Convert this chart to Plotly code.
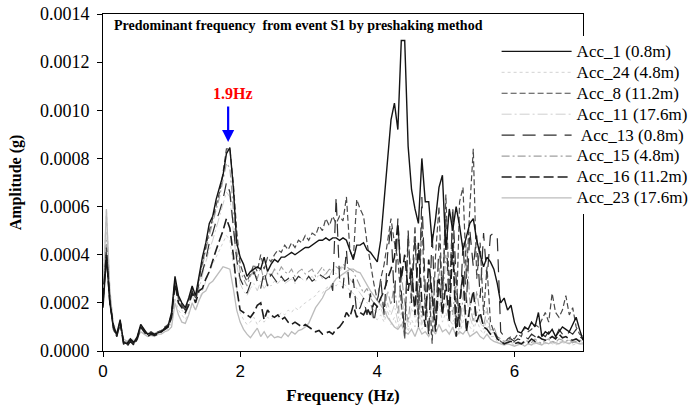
import plotly.graph_objects as go

# Frequency grid (Hz), 0.05 Hz spacing from 0 to 7 Hz
FREQ = [round(i * 0.05, 2) for i in range(141)]
SCALE = 1e-4  # values below are in units of 1e-4 g

ACC_1 = [
    1.8, 3.9, 2.0, 1.0, 0.7, 1.3, 0.35, 0.3, 0.5, 0.35, 0.6, 1.1, 0.9, 0.7, 0.75, 0.7, 0.75, 0.8, 0.95, 1.05,
    1.6, 3.1, 2.3, 2.0, 1.8, 2.2, 2.7, 2.3, 3.1, 3.9, 4.5, 5.3, 5.6, 6.3, 6.8, 7.3, 8.2, 8.45, 6.8, 4.5,
    3.9, 3.6, 3.1, 3.3, 3.4, 3.5, 3.4, 3.9, 3.3, 3.6, 3.8, 3.7, 3.9, 3.9, 4.0, 4.1, 4.0, 4.1, 4.2, 4.3,
    4.3, 4.4, 4.5, 4.6, 4.6, 4.7, 4.6, 4.7, 4.7, 4.6, 4.7, 4.6, 4.2, 3.8, 4.4, 4.4, 4.5, 4.2, 4.1, 3.9,
    3.7, 4.6, 6.2, 8.0, 9.6, 10.3, 9.2, 12.9, 12.9, 8.5, 6.7, 5.9, 5.3, 8.0, 6.2, 6.2, 4.5, 5.5, 6.8, 7.3,
    4.2, 5.9, 5.0, 6.0, 5.2, 4.2, 4.8, 5.3, 5.5, 4.6, 4.0, 3.5, 3.9, 3.7, 3.4, 2.8, 2.0, 2.2, 1.7, 1.9,
    1.2, 0.8, 0.75, 1.0, 0.9, 1.2, 1.0, 1.6, 0.6, 0.8, 0.7, 0.9, 0.6, 0.8, 1.0, 0.9, 0.8, 1.1, 1.4, 0.9,
    0.45,
]
ACC_24 = [
    2.5, 5.9, 2.6, 1.2, 0.8, 1.1, 0.5, 0.4, 0.55, 0.45, 0.6, 0.9, 0.8, 0.7, 0.75, 0.7, 0.75, 0.8, 0.85, 0.9,
    1.2, 2.2, 1.7, 1.5, 1.3, 1.6, 1.9, 1.7, 2.1, 2.5, 2.9, 3.3, 3.6, 3.9, 4.2, 4.5, 4.8, 4.6, 3.6, 2.4,
    1.6, 1.3, 1.1, 1.2, 1.4, 1.1, 1.3, 1.2, 1.4, 1.3, 1.5, 1.4, 1.6, 1.5, 1.7, 1.6, 1.8, 1.7, 1.9, 2.0,
    2.1, 2.2, 2.3, 2.5, 2.4, 2.6, 2.7, 2.8, 2.7, 2.9, 2.8, 2.7, 2.5, 2.4, 2.2, 2.0, 1.9, 1.7, 1.5, 1.4,
    1.3, 1.5, 1.2, 1.7, 1.1, 1.4, 0.9, 1.6, 1.2, 0.8, 1.3, 1.0, 1.8, 0.9, 1.2, 0.7, 1.5, 1.0, 2.0, 1.2,
    1.6, 1.0, 0.9, 1.4, 0.7, 1.2, 1.7, 1.0, 0.8, 1.3, 0.9, 0.7, 1.0, 0.6, 0.6, 0.4, 0.35, 0.3, 0.35, 0.3,
    0.25, 0.3, 0.25, 0.35, 0.3, 0.25, 0.3, 0.35, 0.25, 0.3, 0.35, 0.3, 0.25, 0.3, 0.35, 0.3, 0.35, 0.25, 0.3, 0.3,
    0.3,
]
ACC_8 = [
    2.0, 4.3, 2.2, 0.9, 0.6, 1.2, 0.4, 0.3, 0.45, 0.3, 0.55, 1.0, 0.85, 0.7, 0.8, 0.7, 0.8, 0.85, 1.0, 1.1,
    1.5, 2.9, 2.2, 1.9, 1.7, 2.1, 2.6, 2.2, 3.0, 3.7, 4.3, 5.0, 5.5, 6.1, 6.6, 7.4, 8.4, 8.4, 7.0, 5.0,
    3.6, 3.2, 2.9, 3.2, 3.6, 3.3, 4.0, 3.4, 3.9, 3.7, 4.0, 4.2, 4.1, 4.4, 4.2, 4.5, 4.3, 4.6, 4.5, 4.8,
    4.6, 4.9, 4.8, 5.2, 5.0, 5.5, 5.2, 5.6, 5.3, 5.6, 5.4, 6.4, 4.2, 3.8, 6.3, 5.9, 5.6, 4.5, 3.6, 2.8,
    2.1, 3.0, 3.6, 4.6, 5.5, 4.5, 3.8, 2.0, 0.5, 4.8, 2.5, 5.2, 1.0, 5.6, 1.5, 3.0, 0.3, 4.0, 6.0, 2.0,
    6.5, 2.5, 5.5, 1.0, 6.2, 6.8, 3.0, 6.0, 8.4, 3.0, 4.5, 1.5, 3.5, 1.2, 0.8, 0.6, 0.4, 0.3, 0.5, 0.6,
    0.5, 0.7, 0.6, 1.0, 0.8, 0.9, 1.1, 1.0, 1.3, 1.6, 1.2, 2.4, 1.6, 1.4, 1.7, 2.3, 1.5, 1.8, 1.0, 0.7,
    0.6,
]
ACC_11 = [
    2.3, 5.0, 2.4, 1.0, 0.7, 1.1, 0.45, 0.35, 0.5, 0.4, 0.6, 1.0, 0.85, 0.75, 0.8, 0.75, 0.8, 0.85, 0.9, 1.0,
    1.3, 2.6, 2.0, 1.7, 1.5, 1.9, 2.3, 2.0, 2.6, 3.1, 3.7, 4.2, 4.6, 5.1, 5.6, 6.1, 6.6, 6.4, 5.0, 3.6,
    2.8, 2.5, 2.3, 2.6, 2.8, 2.5, 2.9, 2.6, 2.8, 2.7, 2.9, 2.8, 3.0, 2.8, 2.9, 3.0, 2.8, 3.1, 3.0, 2.9,
    3.0, 3.1, 2.9, 3.2, 3.0, 3.3, 3.1, 3.4, 3.2, 3.3, 3.5, 3.2, 3.0, 2.8, 2.6, 2.4, 2.2, 2.0, 1.9, 1.7,
    1.6, 1.8, 1.4, 2.0, 1.5, 1.9, 1.2, 2.2, 1.6, 1.0, 1.8, 1.4, 2.4, 1.1, 1.6, 0.9, 2.0, 1.3, 2.6, 1.5,
    2.0, 1.3, 1.1, 1.9, 0.9, 1.6, 2.3, 1.4, 1.0, 1.7, 1.2, 0.9, 1.3, 0.7, 0.8, 0.5, 0.4, 0.35, 0.4, 0.35,
    0.3, 0.35, 0.3, 0.4, 0.35, 0.3, 0.4, 0.35, 0.3, 0.4, 0.45, 0.35, 0.3, 0.4, 0.35, 0.4, 0.45, 0.3, 0.35, 0.4,
    0.35,
]
ACC_13 = [
    1.9, 4.1, 2.1, 1.0, 0.65, 1.25, 0.35, 0.3, 0.45, 0.3, 0.55, 1.05, 0.85, 0.7, 0.75, 0.7, 0.75, 0.8, 0.9, 1.0,
    1.5, 3.0, 2.2, 1.9, 1.7, 2.0, 2.5, 2.1, 2.8, 3.3, 3.8, 4.5, 4.9, 5.4, 5.8, 6.3, 7.0, 6.6, 5.2, 3.8,
    3.0, 2.7, 2.4, 2.8, 3.3, 2.9, 2.6, 3.3, 2.7, 3.2, 3.0, 2.8, 3.1, 2.9, 3.0, 3.2, 2.9, 3.1, 3.0, 2.9,
    3.1, 2.9, 3.0, 3.2, 3.1, 3.0, 3.1, 2.5, 6.4, 3.0, 2.6, 4.2, 2.2, 3.0, 1.6, 1.8, 2.2, 1.5, 2.4, 1.2,
    2.0, 3.0, 1.5, 4.0, 5.2, 2.0, 5.5, 2.5, 0.7, 5.0, 2.0, 4.8, 1.5, 6.4, 2.5, 0.6, 5.0, 1.0, 4.5, 2.5,
    5.5, 1.5, 6.0, 3.0, 1.0, 4.5, 2.0, 5.0, 3.5, 4.8, 2.2, 4.9, 3.0, 4.8, 4.9, 4.7, 0.8, 0.6, 0.5, 0.5,
    0.4, 0.5, 0.45, 0.6, 0.5, 0.7, 0.6, 0.5, 0.7, 0.6, 0.8, 0.7, 0.6, 0.9, 0.7, 0.6, 0.8, 0.7, 0.9, 0.6,
    0.5,
]
ACC_15 = [
    2.1, 4.6, 2.2, 0.95, 0.6, 1.2, 0.4, 0.35, 0.5, 0.35, 0.6, 1.1, 0.9, 0.7, 0.8, 0.7, 0.8, 0.85, 0.95, 1.05,
    1.4, 2.9, 2.2, 1.9, 1.7, 2.1, 2.5, 2.2, 2.9, 3.5, 4.2, 4.8, 5.3, 5.9, 6.4, 7.1, 7.8, 7.6, 6.0, 4.2,
    3.3, 3.0, 2.7, 3.1, 3.4, 3.0, 3.5, 2.9, 3.3, 3.1, 3.4, 3.2, 3.5, 3.3, 3.2, 3.4, 3.1, 3.3, 3.4, 3.2,
    3.3, 3.4, 3.1, 3.3, 3.5, 3.2, 3.4, 3.3, 3.5, 3.4, 3.6, 3.5, 3.4, 3.3, 3.0, 2.7, 2.4, 2.6, 2.2, 2.0,
    1.8, 2.2, 1.6, 2.5, 1.9, 2.8, 1.5, 3.2, 2.0, 1.2, 2.6, 1.8, 3.0, 1.4, 2.2, 1.0, 2.5, 1.5, 3.5, 2.0,
    4.0, 2.5, 1.5, 3.0, 1.0, 2.2, 4.5, 2.0, 1.2, 2.5, 1.5, 1.0, 1.8, 0.8, 1.0, 0.6, 0.5, 0.4, 0.45, 0.4,
    0.35, 0.4, 0.3, 0.45, 0.4, 0.35, 0.5, 0.4, 0.3, 0.45, 0.5, 0.4, 0.35, 0.5, 0.45, 0.4, 0.5, 0.35, 0.4, 0.45,
    0.4,
]
ACC_16 = [
    2.2, 4.0, 2.0, 1.1, 0.6, 1.2, 0.3, 0.2, 0.4, 0.25, 0.5, 1.0, 0.8, 0.6, 0.7, 0.65, 0.7, 0.8, 0.9, 1.0,
    1.4, 2.8, 2.0, 1.8, 1.6, 1.9, 2.4, 2.0, 2.5, 2.6, 3.0, 3.3, 3.8, 4.2, 4.6, 5.0, 5.5, 5.1, 4.0, 2.6,
    1.7, 1.6, 1.5, 1.4, 1.6, 1.9, 2.0, 1.3, 1.7, 1.5, 1.4, 1.5, 1.3, 1.4, 1.2, 1.1, 1.2, 1.1, 1.0, 1.1,
    1.0, 0.9, 0.8, 0.85, 0.7, 0.75, 0.8, 0.7, 0.9, 1.0, 1.2, 1.6, 1.4, 1.9, 1.4, 1.6, 1.5, 1.8, 1.5, 2.0,
    1.85, 2.2, 2.5, 3.0, 3.4, 3.9, 5.3, 3.0, 4.0, 2.5, 3.5, 1.5, 4.5, 2.0, 1.0, 3.8, 2.2, 0.8, 3.0, 1.5,
    2.8, 1.2, 4.5, 0.6, 2.0, 3.2, 0.8, 1.8, 2.5, 1.2, 1.6, 1.0, 0.9, 0.7, 0.8, 0.5, 0.4, 0.3, 0.35, 0.4,
    0.3, 0.35, 0.3, 0.4, 0.35, 0.5, 0.4, 0.6, 0.5, 0.45, 0.5, 0.6, 0.5, 0.7, 0.55, 0.6, 0.5, 0.45, 0.5, 0.4,
    0.4,
]
ACC_23 = [
    2.4, 5.9, 2.5, 1.1, 0.7, 1.0, 0.5, 0.4, 0.5, 0.4, 0.55, 0.8, 0.7, 0.6, 0.65, 0.6, 0.7, 0.7, 0.8, 0.85,
    1.0, 2.0, 1.5, 1.2, 1.15, 1.5, 2.0, 1.7, 2.1, 2.4, 2.5, 2.8, 2.9, 3.1, 3.3, 3.5, 3.45, 3.4, 2.6, 1.7,
    1.2, 0.9, 0.7, 0.55, 0.75, 0.95, 0.6, 0.8, 0.55, 0.7, 0.55, 0.6, 0.55, 0.75, 0.6, 0.8, 0.7, 0.85, 0.9, 1.0,
    1.15, 1.5, 1.8, 2.0, 2.2, 2.5, 2.6, 2.8, 3.0, 3.1, 3.2, 3.3, 3.4, 3.4, 3.3, 3.25, 3.0, 2.7, 2.5, 2.3,
    2.1, 1.9, 1.7, 1.4, 1.2, 1.0, 0.9, 1.1, 0.8, 0.7, 0.9, 0.6, 1.0, 0.7, 0.8, 0.6, 0.9, 0.7, 1.1, 0.8,
    0.9, 0.7, 1.0, 0.6, 0.8, 0.7, 0.9, 0.6, 0.7, 0.8, 0.6, 0.5, 0.7, 0.5, 0.4, 0.35, 0.3, 0.25, 0.3, 0.25,
    0.2, 0.25, 0.3, 0.2, 0.3, 0.25, 0.35, 0.3, 0.25, 0.35, 0.3, 0.4, 0.35, 0.3, 0.4, 0.35, 0.3, 0.4, 0.35, 0.3,
    0.3,
]

SERIES_NAMES = ["Acc_1 (0.8m)", "Acc_24 (4.8m)", "Acc_8 (11.2m)", "Acc_11 (17.6m)",
                "\u00a0Acc_13 (0.8m)", "Acc_15 (4.8m)", "Acc_16 (11.2m)", "Acc_23 (17.6m)"]
SERIES_VALUES = [ACC_1, ACC_24, ACC_8, ACC_11, ACC_13, ACC_15, ACC_16, ACC_23]
STYLES = [
    dict(color="#141414", width=1.4, dash="solid"),
    dict(color="#d2d2d2", width=1.0, dash="dot"),
    dict(color="#4a4a4a", width=1.2, dash="6px,3px"),
    dict(color="#cfcfcf", width=1.0, dash="10px,3px,2px,3px"),
    dict(color="#2e2e2e", width=1.2, dash="13px,8px"),
    dict(color="#a0a0a0", width=1.1, dash="8px,3px,2px,3px"),
    dict(color="#1c1c1c", width=1.6, dash="10px,4px"),
    dict(color="#bcbcbc", width=1.3, dash="solid"),
]
DRAW_ORDER = [1, 3, 7, 5, 4, 2, 6, 0]

fig = go.Figure()
for idx in DRAW_ORDER:
    fig.add_trace(go.Scatter(
        x=FREQ, y=[v * SCALE for v in SERIES_VALUES[idx]],
        mode="lines", line=STYLES[idx],
        name='<span style="font-size:17px">' + SERIES_NAMES[idx] + "</span>",
        legendrank=idx + 1,
    ))

serif = "Liberation Serif, Times New Roman, serif"

fig.update_layout(
    width=689, height=406,
    margin=dict(l=103, r=106, t=14, b=55, autoexpand=False),
    paper_bgcolor="white", plot_bgcolor="white",
    font=dict(family=serif, color="black"),
    showlegend=True,
    legend=dict(
        x=0.82, y=0.935, xanchor="left", yanchor="top",
        bgcolor="white", borderwidth=0,
        font=dict(family=serif, size=13.8, color="black"),
        itemwidth=70, traceorder="normal",
    ),
    xaxis=dict(
        range=[0, 7], dtick=2, tick0=0,
        showline=True, linecolor="black", linewidth=1, mirror=True,
        ticks="outside", ticklen=5, tickcolor="black",
        showgrid=False, zeroline=False,
        tickfont=dict(family="Liberation Sans, Arial, sans-serif", size=17, color="black"),
        title=dict(text="<b>Frequency (Hz)</b>", font=dict(family=serif, size=17), standoff=8),
    ),
    yaxis=dict(
        range=[0, 0.0014], dtick=0.0002, tick0=0, tickformat=".4f",
        showline=True, linecolor="black", linewidth=1, mirror=True,
        ticks="outside", ticklen=5, tickcolor="black", ticklabelstandoff=4,
        showgrid=False, zeroline=False,
        tickfont=dict(family=serif, size=18, color="black"),
        title=dict(text="<b>Amplitude (g)</b>", font=dict(family=serif, size=16), standoff=14),
    ),
    annotations=[
        dict(text="<b>Predominant frequency&nbsp; from event S1 by preshaking method</b>",
             xref="paper", yref="paper", x=0.018, y=0.995, xanchor="left", yanchor="top",
             showarrow=False, font=dict(family=serif, size=14, color="black")),
        dict(text="<b>1.9Hz</b>", xref="x", yref="y", x=1.90, y=0.001068,
             showarrow=False, font=dict(family=serif, size=16, color="#ff0000")),
        dict(text="", xref="x", yref="y", x=1.825, y=0.000868, ax=0, ay=-37,
             showarrow=True, arrowhead=2, arrowsize=1.1, arrowwidth=2.2,
             arrowcolor="#0000ff", standoff=0),
    ],
)

fig.write_html("out.html")
